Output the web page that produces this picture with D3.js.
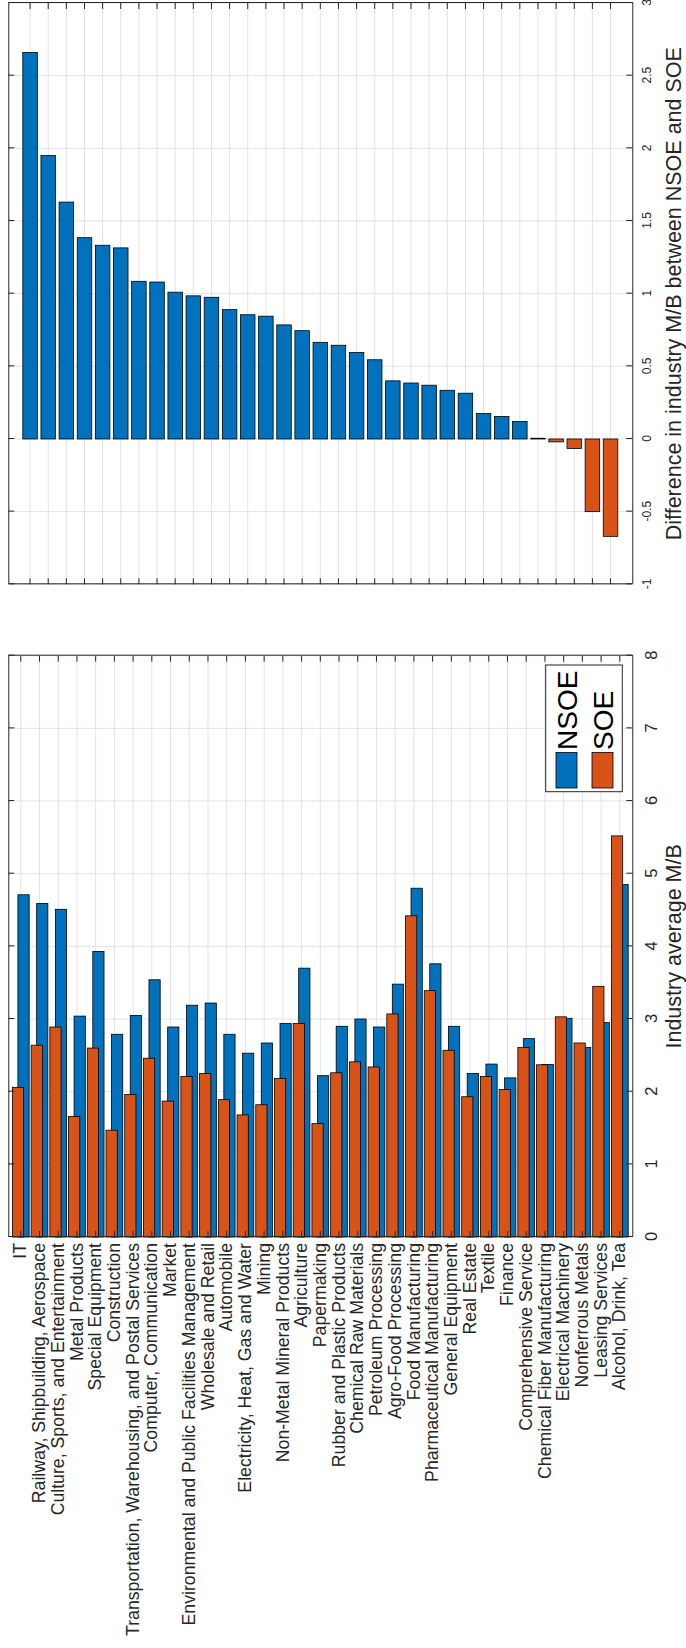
<!DOCTYPE html>
<html>
<head>
<meta charset="utf-8">
<script src="https://cdn.jsdelivr.net/npm/d3@7"></script>
<style>
  body { margin: 0; background: #fff; }
  svg { display: block; font-family: "Liberation Sans", Arial, Helvetica, sans-serif; }
</style>
</head>
<body>
<div id="chart"></div>
<script>
var categories = [
  "IT", "Railway, Shipbuilding, Aerospace", "Culture, Sports, and Entertainment",
  "Metal Products", "Special Equipment", "Construction",
  "Transportation, Warehousing, and Postal Services", "Computer, Communication", "Market",
  "Environmental and Public Facilities Management", "Wholesale and Retail", "Automobile",
  "Electricity, Heat, Gas and Water", "Mining", "Non-Metal Mineral Products",
  "Agriculture", "Papermaking", "Rubber and Plastic Products",
  "Chemical Raw Materials", "Petroleum Processing", "Agro-Food Processing",
  "Food Manufacturing", "Pharmaceutical Manufacturing", "General Equipment",
  "Real Estate", "Textile", "Finance",
  "Comprehensive Service", "Chemical Fiber Manufacturing", "Electrical Machinery",
  "Nonferrous Metals", "Leasing Services", "Alcohol, Drink, Tea"
];

var nsoe = [4.71, 4.59, 4.51, 3.04, 3.93, 2.79, 3.05, 3.54, 2.89, 3.19, 3.22, 2.79,
            2.53, 2.67, 2.94, 3.70, 2.22, 2.90, 3.00, 2.89, 3.48, 4.80, 3.76, 2.90,
            2.25, 2.38, 2.19, 2.73, 2.375, 3.01, 2.61, 2.95, 4.85];
var soe = [2.06, 2.64, 2.89, 1.66, 2.60, 1.47, 1.96, 2.46, 1.87, 2.21, 2.25, 1.89,
           1.68, 1.82, 2.18, 2.94, 1.56, 2.26, 2.41, 2.34, 3.07, 4.42, 3.39, 2.57,
           1.93, 2.21, 2.03, 2.61, 2.37, 3.03, 2.67, 3.45, 5.52];

// NSOE minus SOE
var diffs = [2.66, 1.95, 1.63, 1.385, 1.333, 1.315, 1.085, 1.08, 1.01, 0.985, 0.975, 0.89,
             0.855, 0.845, 0.785, 0.745, 0.665, 0.645, 0.595, 0.545, 0.40, 0.385, 0.37, 0.335,
             0.315, 0.175, 0.155, 0.12, 0.005, -0.02, -0.065, -0.50, -0.67];

var avgTicks = [0, 1, 2, 3, 4, 5, 6, 7, 8];
var diffTicks = [-1, -0.5, 0, 0.5, 1, 1.5, 2, 2.5, 3];
var seriesNames = ["NSOE", "SOE"];
var avgTitle = "Industry average M/B";
var diffTitle = "Difference in industry M/B between NSOE and SOE";

var blue = "#0072BD", orange = "#D95319";
var axisColor = "#262626", gridColor = "#e2e2e2";

var width = 686, height = 1648;
var svg = d3.select('#chart').append('svg')
  .attr('width', width)
  .attr('height', height);

// everything is laid out in the landscape frame (1648 x 686) and turned a quarter turn
var g = svg.append('g')
  .attr('transform', 'translate(0,' + height + ') rotate(-90)');

var yTop = 8.3, yBot = 632.3;

var xAvg = d3.scaleLinear().domain([0, 8]).range([411, 992.3]);
var yAvg = d3.scaleBand().domain(categories).range([yTop, yBot])
  .paddingInner(0).paddingOuter(0.167);

var xDiff = d3.scaleLinear().domain([-1, 3]).range([1063.7, 1645]);
var yDiff = d3.scaleBand().domain(categories).range([yTop, yBot])
  .paddingInner(0.2).paddingOuter(0.8);

function drawGrid(x, y, ticks) {
  var grid = g.append('g').attr('stroke', gridColor).attr('stroke-width', 1);
  grid.selectAll('.vg').data(ticks).enter().append('line')
    .attr('x1', function(d) { return x(d); })
    .attr('x2', function(d) { return x(d); })
    .attr('y1', yTop).attr('y2', yBot);
  grid.selectAll('.cg').data(categories).enter().append('line')
    .attr('x1', x.range()[0]).attr('x2', x.range()[1])
    .attr('y1', function(d) { return y(d) + y.bandwidth() / 2; })
    .attr('y2', function(d) { return y(d) + y.bandwidth() / 2; });
}

function styleAxis(sel, fontSize) {
  sel.attr('color', axisColor).attr('font-size', fontSize)
    .attr('font-family', '"Liberation Sans", Arial, Helvetica, sans-serif');
  sel.select('.domain').attr('stroke-width', 1);
}

function drawAxes(x, y, ticks, tickFont, tickPad, labelCats, catFont) {
  var x0 = x.range()[0], x1 = x.range()[1];
  // value axis with labels (below in this frame) and its mirror
  styleAxis(g.append('g').attr('transform', 'translate(0,' + yBot + ')')
    .call(d3.axisBottom(x).tickValues(ticks).tickSize(-6).tickSizeOuter(0)
      .tickPadding(tickPad).tickFormat(function(d) { return String(d); })), tickFont);
  styleAxis(g.append('g').attr('transform', 'translate(0,' + yTop + ')')
    .call(d3.axisTop(x).tickValues(ticks).tickSize(-6).tickSizeOuter(0).tickFormat('')), tickFont);
  // category axis and its mirror
  var left = d3.axisLeft(y).tickSize(-6).tickSizeOuter(0).tickPadding(6);
  if (!labelCats) left.tickFormat('');
  var ax = g.append('g').attr('transform', 'translate(' + x0 + ',0)').call(left);
  styleAxis(ax, catFont);
  styleAxis(g.append('g').attr('transform', 'translate(' + x1 + ',0)')
    .call(d3.axisRight(y).tickSize(-6).tickSizeOuter(0).tickFormat('')), catFont);
}

// ---- lower panel: industry averages ----
drawGrid(xAvg, yAvg, avgTicks);

var step = yAvg.step();
var barH = 0.6 * step, shift = 0.147 * step;
var avgBars = g.append('g').attr('stroke', '#000').attr('stroke-width', 0.8);
avgBars.selectAll('.nsoe').data(categories).enter().append('rect')
  .attr('x', xAvg(0))
  .attr('y', function(d) { return yAvg(d) + step / 2 + shift - barH / 2; })
  .attr('width', function(d, i) { return xAvg(nsoe[i]) - xAvg(0); })
  .attr('height', barH)
  .attr('fill', blue);
avgBars.selectAll('.soe').data(categories).enter().append('rect')
  .attr('x', xAvg(0))
  .attr('y', function(d) { return yAvg(d) + step / 2 - shift - barH / 2; })
  .attr('width', function(d, i) { return xAvg(soe[i]) - xAvg(0); })
  .attr('height', barH)
  .attr('fill', orange);

drawAxes(xAvg, yAvg, avgTicks, 16.5, 13, true, 17.7);

g.append('text')
  .attr('x', (xAvg.range()[0] + xAvg.range()[1]) / 2)
  .attr('y', 680.5)
  .attr('text-anchor', 'middle')
  .attr('font-size', 21.5)
  .attr('fill', axisColor)
  .text(avgTitle);

// legend
var legend = g.append('g');
legend.append('rect')
  .attr('x', 856.3).attr('y', 545.7).attr('width', 126.7).attr('height', 76.6)
  .attr('fill', '#fff').attr('stroke', axisColor).attr('stroke-width', 1);
var entry = legend.selectAll('.entry').data(seriesNames).enter().append('g')
  .attr('transform', function(d, i) { return 'translate(860,' + (566.5 + i * 36) + ')'; });
entry.append('rect')
  .attr('x', 0).attr('y', -10.5).attr('width', 35.5).attr('height', 21)
  .attr('fill', function(d, i) { return i === 0 ? blue : orange; })
  .attr('stroke', '#000').attr('stroke-width', 0.8);
entry.append('text')
  .attr('x', 38).attr('y', 10.5)
  .attr('font-size', 28)
  .attr('fill', '#000')
  .text(function(d) { return d; });

// ---- upper panel: difference ----
drawGrid(xDiff, yDiff, diffTicks);

g.append('g').attr('stroke', '#000').attr('stroke-width', 0.8)
  .selectAll('rect').data(categories).enter().append('rect')
  .attr('x', function(d, i) { return Math.min(xDiff(0), xDiff(diffs[i])); })
  .attr('y', function(d) { return yDiff(d); })
  .attr('width', function(d, i) { return Math.abs(xDiff(diffs[i]) - xDiff(0)); })
  .attr('height', yDiff.bandwidth())
  .attr('fill', function(d, i) { return diffs[i] >= 0 ? blue : orange; });

drawAxes(xDiff, yDiff, diffTicks, 12, 10, false, 12);

g.append('text')
  .attr('x', (xDiff.range()[0] + xDiff.range()[1]) / 2)
  .attr('y', 680.5)
  .attr('text-anchor', 'middle')
  .attr('font-size', 21.5)
  .attr('fill', axisColor)
  .text(diffTitle);
</script>
</body>
</html>
